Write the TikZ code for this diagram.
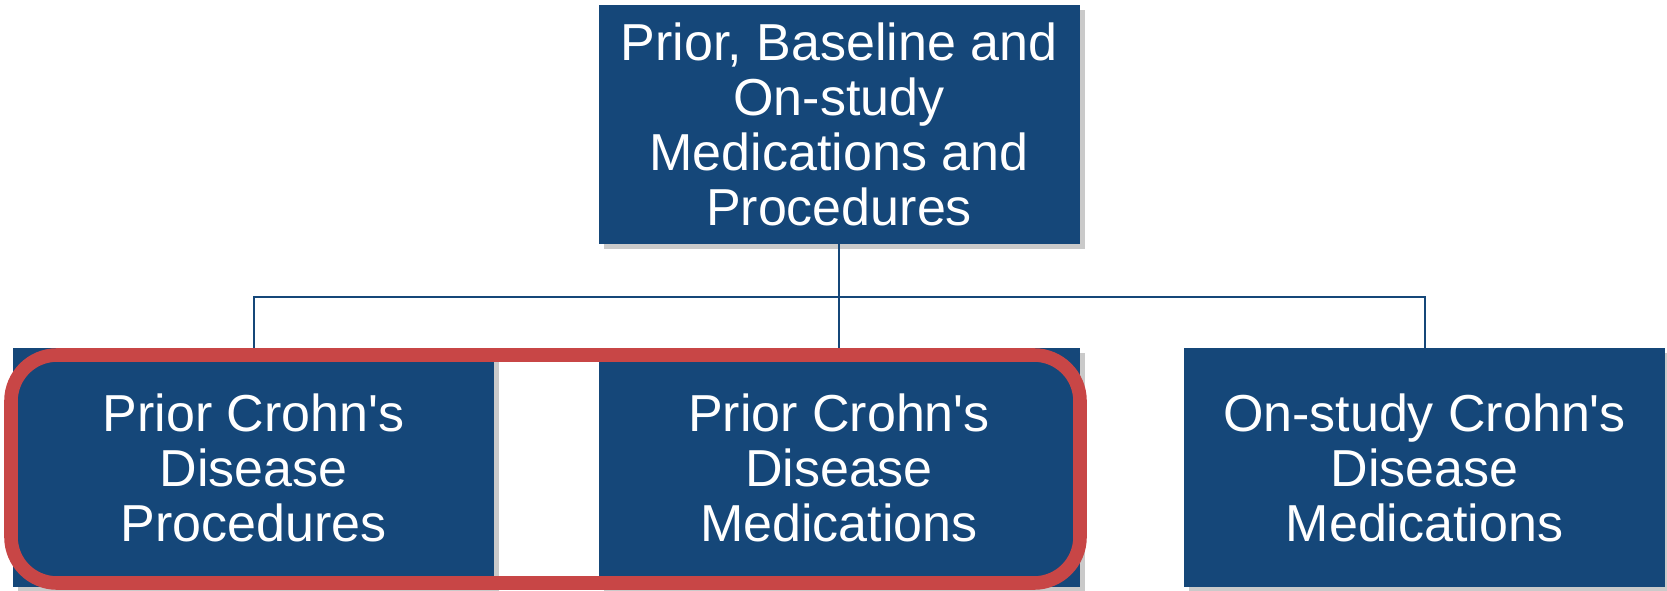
\documentclass[tikz,border=0pt]{standalone}
\usepackage{fontspec}
\setmainfont{Liberation Sans}[Ligatures=TeXOff]
\usetikzlibrary{shadows}
\definecolor{boxblue}{RGB}{21,71,121}
\definecolor{hlred}{RGB}{200,70,70}
\tikzset{
  box/.style={fill=boxblue, text=white, align=center, inner sep=0pt,
    minimum width=240.5pt, minimum height=119.5pt,
    font=\fontsize{26}{27.5}\selectfont,
    drop shadow={shadow xshift=2.5pt, shadow yshift=-2.5pt, opacity=0.35, fill=black!60}},
  conn/.style={draw=boxblue, line width=1pt},
  highlight/.style={draw=hlred, line width=6.8pt, rounded corners=23pt}
}
\begin{document}
\begin{tikzpicture}[x=0.5pt,y=-0.5pt]
\useasboundingbox (0,0) rectangle (1667,590);
\node[box] (top) at (839,124) {Prior, Baseline and\\On-study\\Medications and\\Procedures};
\node[box] (bl) at (253.5,467.5) {Prior Crohn's\\Disease\\Procedures};
\node[box] (bm) at (839,467.5) {Prior Crohn's\\Disease\\Medications};
\node[box] (br) at (1424.5,467.5) {On-study Crohn's\\Disease\\Medications};
\coordinate (j) at (839,297);
\draw[conn] (top.south) -- (j);
\draw[conn] (j) -| (bl.north);
\draw[conn] (j) -- (bm.north);
\draw[conn] (j) -| (br.north);
\draw[highlight] (11,355) rectangle (1080,583);
\end{tikzpicture}
\end{document}
